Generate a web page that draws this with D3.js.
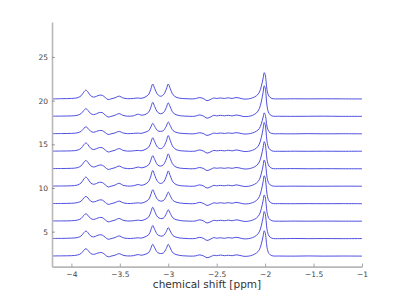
<!DOCTYPE html>
<html>
<head>
<meta charset="utf-8">
<script src="https://cdn.jsdelivr.net/npm/d3@7"></script>
<style>
  body { margin: 0; background: #fff; }
  svg { display: block; }
</style>
</head>
<body>
<div id="chart"></div>
<script>
// chemical shift grid (ppm), shared by all traces
const ppm = [-4.20, -4.10, -4.00, -3.94, -3.90, -3.87, -3.85, -3.83, -3.80, -3.77,
  -3.74, -3.71, -3.68, -3.65, -3.62, -3.59, -3.55, -3.52, -3.50, -3.47,
  -3.42, -3.36, -3.31, -3.28, -3.24, -3.20, -3.18, -3.16, -3.14, -3.11,
  -3.08, -3.05, -3.02, -3.00, -2.98, -2.95, -2.91, -2.85, -2.78, -2.72,
  -2.68, -2.64, -2.60, -2.56, -2.53, -2.50, -2.46, -2.42, -2.38, -2.34,
  -2.30, -2.26, -2.22, -2.17, -2.13, -2.09, -2.06, -2.04, -2.02, -2.01,
  -2.00, -1.99, -1.98, -1.96, -1.93, -1.85, -1.70, -1.55, -1.40, -1.20, -1.00];

// vertical offset of each trace (bottom to top)
const offsets = [2.2, 4.2, 6.2, 8.2, 10.2, 12.2, 14.2, 16.2, 18.2, 20.2];

// intensity of each trace above its own baseline, bottom to top
const spectra = [
  [0.02,0.03,0.05,0.12, 0.30,0.68,0.85,0.68,0.30, 0.20,0.30,0.40,0.38,0.14,-0.08,0.00,0.10,0.25,0.27,0.11,0.02,0.05, 0.18,0.10,0.20, 0.43,0.88,1.35,0.95,0.41, 0.30, 0.36,0.88,1.35,0.95,0.36, 0.15,0.04,0.00,0.02,0.14,0.04,-0.18,-0.05,0.10,0.05,0.12,0.05,0.10,0.05,0.14,0.08,-0.02,0.00,0.12,0.35, 0.73,1.36,2.32,2.90,2.70,1.94,0.96,0.29, 0.05,0.01,0.00,0.02,0.00,0.01,0.00],
  [0.02,0.03,0.06,0.12, 0.30,0.70,0.87,0.70,0.30, 0.20,0.32,0.44,0.40,0.15,-0.07,0.00,0.12,0.28,0.30,0.12,0.02,0.04, 0.10,0.06,0.20, 0.48,0.98,1.50,1.05,0.45, 0.30, 0.34,0.82,1.26,0.88,0.34, 0.14,0.04,0.00,0.02,0.15,0.05,-0.20,-0.04,0.12,0.05,0.10,0.04,0.12,0.06,0.15,0.07,-0.02,0.00,0.12,0.36, 0.78,1.46,2.48,3.10,2.88,2.08,1.02,0.31, 0.05,0.00,0.02,0.00,0.01,0.00,0.01],
  [0.03,0.03,0.05,0.12, 0.30,0.68,0.85,0.68,0.30, 0.20,0.30,0.42,0.40,0.15,-0.08,0.00,0.12,0.28,0.30,0.12,0.02,0.05, 0.12,0.07,0.20, 0.51,1.04,1.60,1.12,0.48, 0.30, 0.35,0.85,1.30,0.91,0.35, 0.15,0.04,0.00,0.02,0.15,0.05,-0.20,-0.05,0.10,0.05,0.10,0.05,0.12,0.05,0.15,0.08,-0.02,0.00,0.12,0.35, 0.75,1.41,2.40,3.00,2.79,2.01,0.99,0.30, 0.05,0.00,0.01,0.00,0.01,0.00,0.00],
  [0.02,0.03,0.05,0.12, 0.29,0.67,0.84,0.67,0.29, 0.20,0.30,0.43,0.41,0.15,-0.08,0.00,0.12,0.27,0.29,0.12,0.02,0.05, 0.10,0.06,0.20, 0.51,1.04,1.60,1.12,0.48, 0.30, 0.36,0.86,1.33,0.93,0.36, 0.15,0.04,0.00,0.02,0.15,0.05,-0.19,-0.05,0.10,0.05,0.11,0.05,0.12,0.05,0.15,0.08,-0.02,0.00,0.12,0.36, 0.80,1.50,2.56,3.20,2.98,2.14,1.06,0.32, 0.05,0.01,0.00,0.01,0.00,0.01,0.00],
  [0.02,0.03,0.05,0.13, 0.37,0.84,1.05,0.84,0.37, 0.22,0.32,0.45,0.42,0.16,-0.08,0.00,0.13,0.30,0.32,0.12,0.02,0.05, 0.20,0.11,0.22, 0.58,1.17,1.80,1.26,0.54, 0.32, 0.47,1.14,1.75,1.23,0.47, 0.15,0.04,0.00,0.02,0.15,0.05,-0.20,-0.05,0.10,0.05,0.10,0.05,0.12,0.05,0.15,0.08,-0.02,0.00,0.12,0.35, 0.75,1.41,2.40,3.00,2.79,2.01,0.99,0.30, 0.05,0.00,0.01,0.00,0.00,0.01,0.00],
  [0.02,0.03,0.05,0.12, 0.33,0.76,0.95,0.76,0.33, 0.20,0.30,0.42,0.40,0.15,-0.08,0.00,0.12,0.28,0.30,0.12,0.02,0.05, 0.20,0.11,0.20, 0.48,0.98,1.50,1.05,0.45, 0.30, 0.46,1.11,1.70,1.19,0.46, 0.15,0.04,0.00,0.02,0.14,0.05,-0.20,-0.05,0.10,0.06,0.10,0.05,0.11,0.05,0.14,0.08,-0.02,0.00,0.12,0.35, 0.78,1.46,2.48,3.10,2.88,2.08,1.02,0.31, 0.05,0.01,0.02,0.00,0.01,0.00,0.00],
  [0.02,0.03,0.05,0.12, 0.34,0.77,0.96,0.77,0.34, 0.20,0.30,0.42,0.40,0.15,-0.08,0.00,0.12,0.28,0.30,0.12,0.02,0.05, 0.10,0.06,0.20, 0.50,1.01,1.55,1.09,0.47, 0.30, 0.49,1.17,1.80,1.26,0.49, 0.15,0.04,0.00,0.02,0.15,0.05,-0.20,-0.05,0.10,0.05,0.10,0.05,0.12,0.05,0.15,0.08,-0.02,0.00,0.12,0.36, 0.83,1.55,2.64,3.30,3.07,2.21,1.09,0.33, 0.05,0.00,0.01,0.00,0.01,0.00,0.01],
  [0.02,0.03,0.05,0.11, 0.28,0.64,0.80,0.64,0.28, 0.18,0.28,0.38,0.36,0.14,-0.08,0.00,0.10,0.24,0.26,0.11,0.02,0.05, 0.08,0.05,0.18, 0.38,0.78,1.20,0.84,0.36, 0.28, 0.36,0.88,1.35,0.95,0.36, 0.14,0.04,0.00,0.02,0.12,0.04,-0.18,-0.05,0.08,0.04,0.09,0.04,0.10,0.05,0.13,0.07,-0.02,0.00,0.10,0.30, 0.60,1.13,1.92,2.40,2.23,1.61,0.79,0.24, 0.04,0.01,0.00,0.02,0.00,0.01,0.00],
  [0.02,0.03,0.05,0.12, 0.31,0.70,0.88,0.70,0.31, 0.20,0.30,0.44,0.42,0.15,-0.08,0.00,0.12,0.28,0.30,0.12,0.02,0.06, 0.25,0.14,0.20, 0.51,1.04,1.60,1.12,0.48, 0.30, 0.42,1.01,1.55,1.09,0.42, 0.15,0.04,0.00,0.02,0.16,0.05,-0.20,-0.05,0.12,0.05,0.12,0.06,0.12,0.05,0.15,0.08,-0.02,0.00,0.12,0.38, 0.88,1.65,2.80,3.50,3.26,2.35,1.16,0.35, 0.05,0.01,0.00,0.01,0.02,0.00,0.00],
  [0.00,0.02,0.05,0.12, 0.35,0.80,1.00,0.80,0.35, 0.20,0.30,0.42,0.40,0.15,-0.08,0.00,0.12,0.28,0.30,0.12,0.02,0.05, 0.10,0.06,0.20, 0.54,1.11,1.70,1.19,0.51, 0.30, 0.46,1.11,1.70,1.19,0.46, 0.15,0.04,0.00,0.02,0.15,0.05,-0.20,-0.05,0.10,0.05,0.10,0.05,0.12,0.05,0.15,0.08,-0.02,0.00,0.12,0.35, 0.75,1.41,2.40,3.00,2.79,2.01,0.99,0.30, 0.05,0.00,0.01,0.00,0.01,0.00,-0.01]
];

const xTicks = [-4, -3.5, -3, -2.5, -2, -1.5, -1];
const yTicks = [5, 10, 15, 20, 25];

const width = 400, height = 300;

const svg = d3.select("#chart")
  .append("svg")
  .attr("width", width)
  .attr("height", height);

const x = d3.scaleLinear([-4.2, -1], [52, 362]);
const y = d3.scaleLinear([1, 29], [266.6, 22]);

const line = d3.line()
  .x(d => x(d[0]))
  .y(d => y(d[1]))
  .curve(d3.curveCatmullRom.alpha(0.5));

svg.append("g")
  .selectAll("path")
  .data(spectra.map((s, i) => s.map((v, j) => [ppm[j], v + offsets[i]])))
  .join("path")
  .attr("d", line)
  .attr("fill", "none")
  .attr("stroke", "#3b3bdc")
  .attr("stroke-width", 0.9);

const xAxis = svg.append("g")
  .attr("transform", `translate(0,${y(1)})`)
  .call(d3.axisBottom(x).tickValues(xTicks).tickSizeInner(-3).tickSizeOuter(0).tickPadding(5).tickFormat(d3.format("")));

const yAxis = svg.append("g")
  .attr("transform", `translate(${x(-4.2)},0)`)
  .call(d3.axisLeft(y).tickValues(yTicks).tickSizeInner(-3).tickSizeOuter(0).tickPadding(4));

[xAxis, yAxis].forEach(g => {
  g.select(".domain").attr("stroke", "#b8b8b8").attr("stroke-width", 1.6);
  g.selectAll(".tick line").attr("stroke", "#666").attr("stroke-width", 0.6);
  g.selectAll(".tick text")
    .attr("fill", "#444")
    .style("font-family", "DejaVu Sans, sans-serif")
    .style("font-size", "7.5px");
});

svg.append("text")
  .attr("x", 207)
  .attr("y", 288)
  .attr("text-anchor", "middle")
  .style("font-family", "DejaVu Sans, sans-serif")
  .style("font-size", "10.5px")
  .attr("fill", "#333")
  .text("chemical shift [ppm]");
</script>
</body>
</html>
